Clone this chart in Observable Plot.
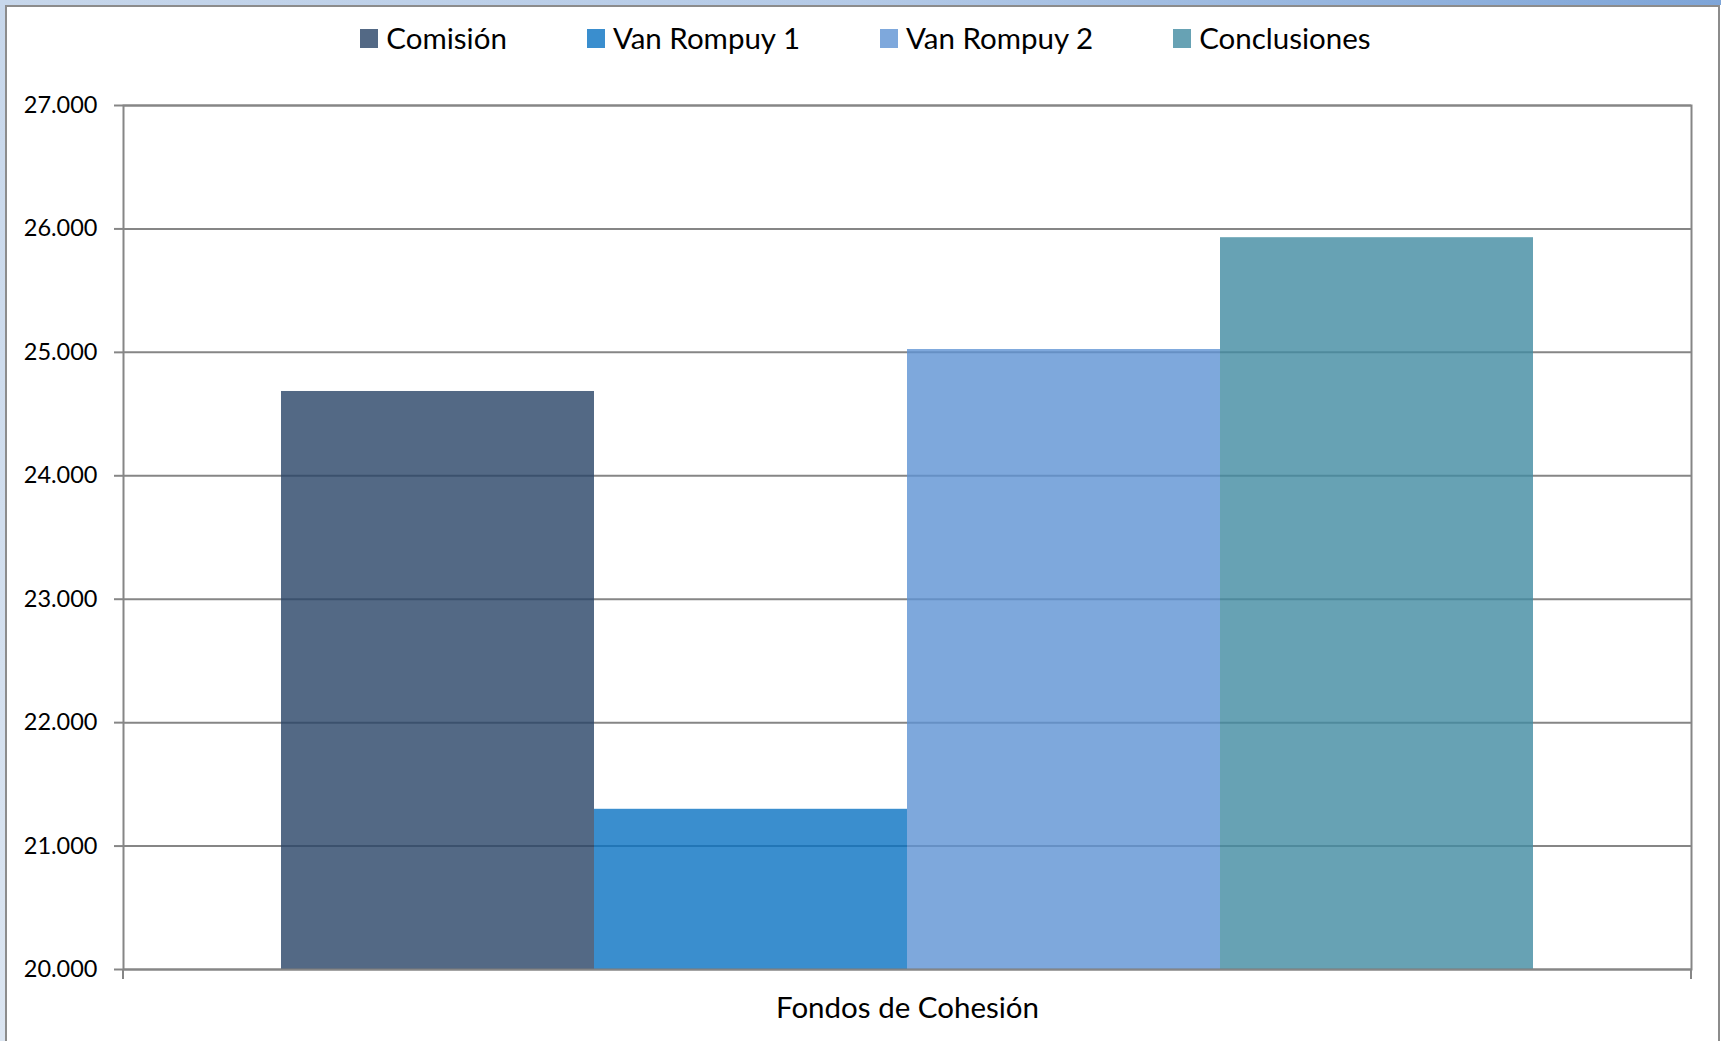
<!DOCTYPE html>
<html>
<head>
<meta charset="utf-8">
<script src="https://cdn.jsdelivr.net/npm/d3@7"></script>
<script src="https://cdn.jsdelivr.net/npm/@observablehq/plot@0.6"></script>
<style>
  html, body { margin: 0; padding: 0; background: #fff; }
  #page { position: relative; width: 1721px; height: 1041px; overflow: hidden; background: #fff; font-family: Lato, sans-serif; }
  #legend { height: 70px; box-sizing: border-box; padding-top: 22px; padding-left: 10px; display: flex; justify-content: center; gap: 80px; }
  .item { display: flex; align-items: center; height: 32px; line-height: 32px; font-size: 29.5px; color: #000; }
  .sw { width: 18px; height: 19px; margin-right: 8px; }
  .deco { position: absolute; pointer-events: none; }
</style>
</head>
<body>
<div id="page">
  <div id="legend"></div>
  <div id="chart"></div>
  <div class="deco" style="left:0;top:0;width:1721px;height:5px;background:linear-gradient(to right,#c7d7eb,#b4cae7 50%,#7ea5d8);"></div>
  <div class="deco" style="left:0;top:0;width:5px;height:1041px;background:linear-gradient(to bottom,#c7d7eb,#dbe5f1);"></div>
  <div class="deco" style="left:5px;top:5px;width:1715px;height:2px;background:#8c8c8c;"></div>
  <div class="deco" style="left:5px;top:5px;width:2px;height:1036px;background:#8c8c8c;"></div>
  <div class="deco" style="left:1718px;top:5px;width:2px;height:1036px;background:#8c8c8c;"></div>
</div>
<script>
// ---- data ----
const categories = ["Fondos de Cohesión"];
const series = ["Comisión", "Van Rompuy 1", "Van Rompuy 2", "Conclusiones"];
const values = [24683, 21298, 25023, 25929];
const colors = ["#284466", "#0972c2", "#5e92d3", "#418ba1"];
const yTicks = [20000, 21000, 22000, 23000, 24000, 25000, 26000, 27000];
const yTickLabels = ["20.000", "21.000", "22.000", "23.000", "24.000", "25.000", "26.000", "27.000"];

const table = series.map((s, i) => ({category: categories[0], series: s, value: values[i]}));
const gray = "#868686";
const opacity = 0.8;

// ---- legend ----
const legend = document.getElementById("legend");
series.forEach((s, i) => {
  const it = document.createElement("div");
  it.className = "item";
  const sw = document.createElement("div");
  sw.className = "sw";
  sw.style.background = colors[i];
  sw.style.opacity = opacity;
  const tx = document.createElement("span");
  tx.textContent = s;
  it.appendChild(sw);
  it.appendChild(tx);
  legend.appendChild(it);
});

// bottom tick extensions at the corners of the plot area
function cornerTicks(index, scales, values, dimensions) {
  const g = d3.create("svg:g").attr("stroke", gray).attr("stroke-width", 2);
  const y0 = scales.y(yTicks[0]);
  const xs = [dimensions.marginLeft, dimensions.width - dimensions.marginRight];
  xs.forEach(x => g.append("line").attr("x1", x).attr("x2", x).attr("y1", y0).attr("y2", y0 + 10));
  return g.node();
}

const chart = Plot.plot({
  width: 1721,
  height: 971,
  marginTop: 35,
  marginBottom: 72,
  marginLeft: 123,
  marginRight: 30,
  style: {fontFamily: "Lato, sans-serif", background: "transparent", overflow: "visible"},
  x: {domain: series, paddingInner: 0, paddingOuter: 0.5, axis: null},
  y: {domain: [yTicks[0], yTicks[yTicks.length - 1]], axis: null},
  color: {domain: series, range: colors},
  marks: [
    Plot.ruleY(yTicks, {stroke: gray, strokeWidth: 2}),
    Plot.barY(table, {x: "series", y1: yTicks[0], y2: "value", fill: "series", fillOpacity: opacity}),
    Plot.frame({stroke: gray, strokeWidth: 2}),
    Plot.axisY({
      ticks: yTicks,
      tickFormat: (d) => yTickLabels[yTicks.indexOf(d)],
      tickSize: 9,
      tickPadding: 17,
      fontSize: 23.5,
      stroke: gray,
      strokeWidth: 2,
      fill: "#000",
      label: null
    }),
    cornerTicks,
    Plot.text(categories, {text: d => d, frameAnchor: "bottom", dy: 48, fontSize: 29.5, fill: "#000"})
  ]
});
document.getElementById("chart").appendChild(chart);
</script>
</body>
</html>
